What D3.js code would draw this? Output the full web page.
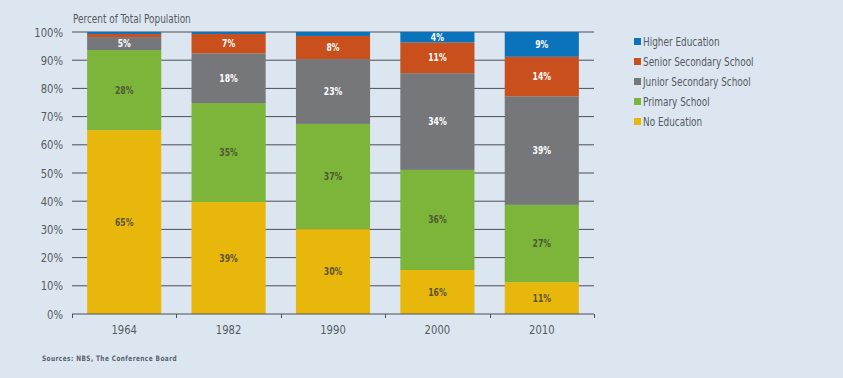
<!DOCTYPE html>
<html><head><meta charset="utf-8">
<script src="https://cdn.jsdelivr.net/npm/d3@7"></script>
<style>
body{margin:0;background:#dce6f1;}
svg{display:block;font-family:"DejaVu Sans Condensed","Liberation Sans",sans-serif;}
</style></head><body>
<svg id="c" width="843" height="378"></svg>
<script>
const years = ["1964","1982","1990","2000","2010"];
const seriesNames = ["No Education","Primary School","Junior Secondary School","Senior Secondary School","Higher Education"];
const noEducation = [65.2, 39.7, 30.1, 15.6, 11.3];
const primarySchool = [28.4, 35.1, 37.3, 35.5, 27.4];
const juniorSecondary = [4.6, 17.6, 23.0, 34.3, 38.5];
const seniorSecondary = [1.1, 6.9, 8.2, 10.9, 14.0];
const higherEducation = [0.7, 0.7, 1.4, 3.7, 8.8];
const labelNoEducation = ["65%","39%","30%","16%","11%"];
const labelPrimary = ["28%","35%","37%","36%","27%"];
const labelJunior = ["5%","18%","23%","34%","39%"];
const labelSenior = ["","7%","8%","11%","14%"];
const labelHigher = ["","","","4%","9%"];
const yTicks = [0,10,20,30,40,50,60,70,80,90,100];
const colors = ["#e8b70c","#7cb53a","#76777b","#c94f1c","#0b73bb"];
const labelColors = ["#5b5536","#4e5a34","#ffffff","#ffffff","#ffffff"];

const values = [noEducation, primarySchool, juniorSecondary, seniorSecondary, higherEducation];
const labels = [labelNoEducation, labelPrimary, labelJunior, labelSenior, labelHigher];
const rows = years.map((y,i)=>{const o={year:y}; seriesNames.forEach((s,k)=>o[s]=values[k][i]); return o;});
const stack = d3.stack().keys(seriesNames)(rows);

const SX = 0.86;
const svg = d3.select("#c");
const x = d3.scaleBand().domain(years).range([72,594]).paddingInner(0.29).paddingOuter(0.145);
const y = d3.scaleLinear().domain([0,100]).range([314,32]);
const pos = (px,py)=>`translate(${px},${py}) scale(${SX},1)`;

// gridlines
svg.append("g").selectAll("line").data(yTicks.filter(t=>t>0)).join("line")
  .attr("x1",72).attr("x2",594).attr("y1",d=>y(d)).attr("y2",d=>y(d))
  .attr("stroke","#4d4f53").attr("stroke-width",1);

// y labels
svg.append("g").selectAll("text").data(yTicks).join("text")
  .attr("transform",d=>pos(63,y(d)+4.5)).attr("text-anchor","end")
  .attr("font-size",13).attr("fill","#555a60").text(d=>d+"%");

// bars
const g = svg.append("g");
stack.forEach((layer,k)=>{
  g.append("g").attr("fill",colors[k]).selectAll("rect").data(layer).join("rect")
    .attr("x",d=>x(d.data.year)).attr("width",x.bandwidth())
    .attr("y",d=>y(d[1])).attr("height",d=>y(d[0])-y(d[1]));
  g.append("g").selectAll("text").data(layer).join("text")
    .attr("transform",d=>pos(x(d.data.year)+x.bandwidth()/2,(y(d[0])+y(d[1]))/2+3.5))
    .attr("text-anchor","middle").attr("font-size",10).attr("font-weight","bold")
    .attr("fill",labelColors[k]).text((d,i)=>labels[k][i]);
});

// x axis
const xa = svg.append("g").attr("transform","translate(0,314)");
xa.append("line").attr("x1",72).attr("x2",594).attr("stroke","#4d4f53");
const tickPos = [72].concat(years.map(yr=>x(yr)+x.bandwidth()/2+x.step()/2));
xa.selectAll(".tk").data(tickPos).join("line").attr("class","tk")
  .attr("x1",d=>Math.round(d)+0.5).attr("x2",d=>Math.round(d)+0.5).attr("y1",0).attr("y2",4)
  .attr("stroke","#4d4f53");
xa.selectAll("text").data(years).join("text")
  .attr("transform",d=>pos(x(d)+x.bandwidth()/2,20)).attr("text-anchor","middle")
  .attr("font-size",13).attr("fill","#555a60").text(d=>d);

// title
svg.append("text").attr("transform",pos(73,23)).attr("font-size",11.5).attr("fill","#555a60")
  .text("Percent of Total Population");

// legend
const legendOrder = [4,3,2,1,0];
const lg = svg.append("g");
legendOrder.forEach((k,i)=>{
  const cy = 42 + i*20;
  lg.append("rect").attr("x",634).attr("y",cy-4).attr("width",7).attr("height",7).attr("fill",colors[k]);
  lg.append("text").attr("transform",pos(643,cy+4)).attr("font-size",11.5).attr("fill","#555a60").text(seriesNames[k]);
});

// source
svg.append("text").attr("transform",pos(42,361)).attr("font-size",7.5).attr("font-weight","bold")
  .attr("letter-spacing",0.5).attr("fill","#5a6070").text("Sources: NBS, The Conference Board");
</script>
</body></html>
